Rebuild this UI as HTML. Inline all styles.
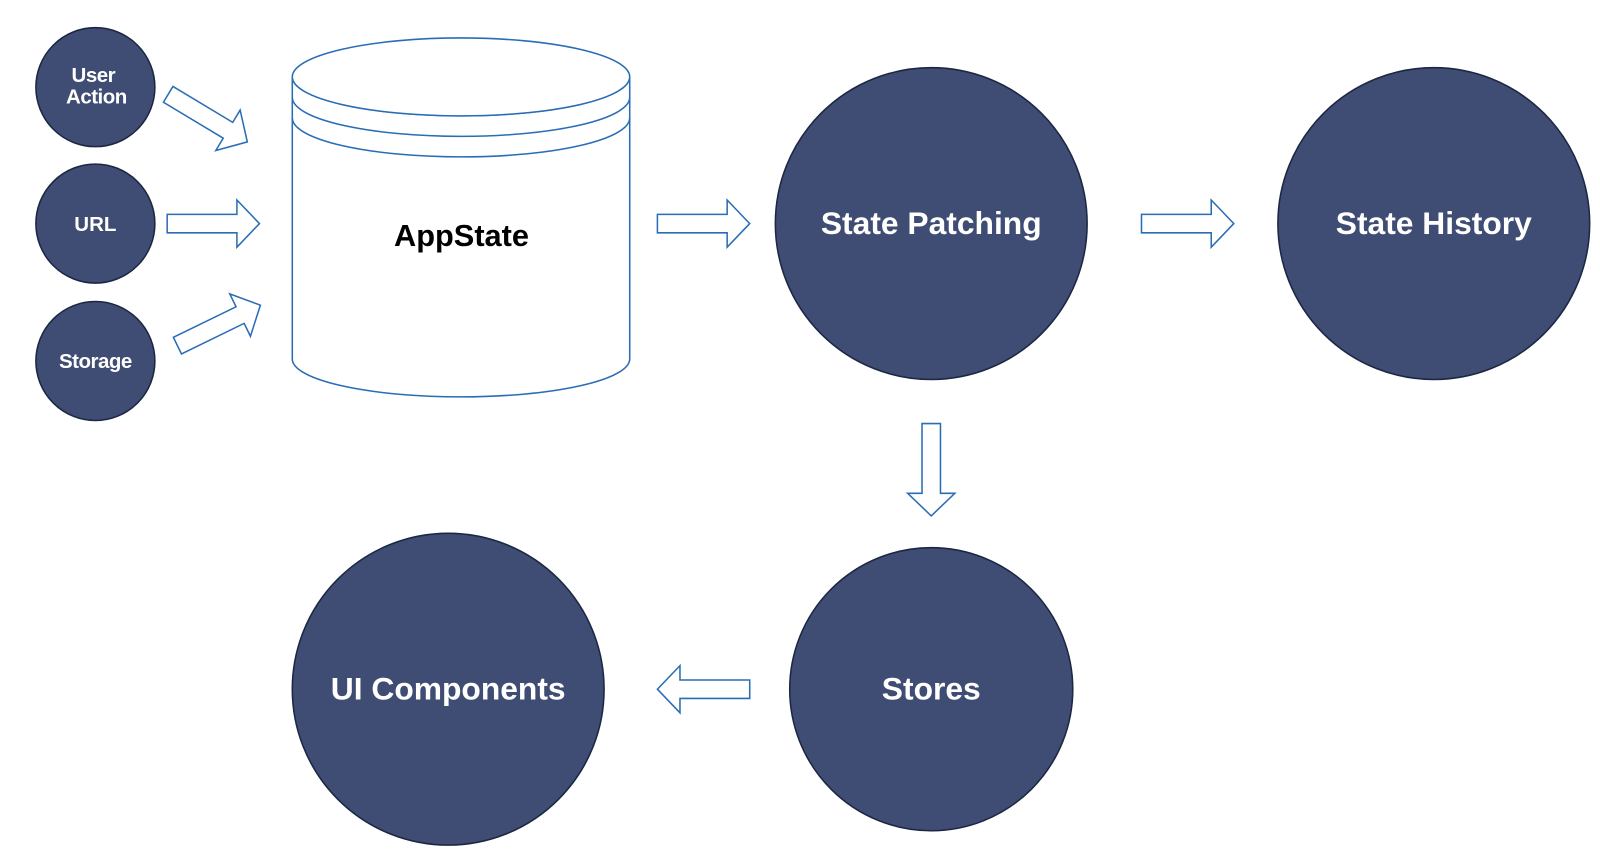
<!DOCTYPE html>
<html><head><meta charset="utf-8"><style>
html,body{margin:0;padding:0;background:#fff;width:1600px;height:859px;overflow:hidden}
text{font-family:"Liberation Sans",Arial,sans-serif;font-weight:bold}
</style></head><body>
<svg width="1600" height="859" viewBox="0 0 1600 859" xmlns="http://www.w3.org/2000/svg">
<g transform="scale(1.0256)">
<g fill="#3f4c73" stroke="#1c2743" stroke-width="1.5">
<circle cx="93" cy="85" r="58"/>
<circle cx="93" cy="218" r="58"/>
<circle cx="93" cy="352" r="58"/>
<circle cx="908" cy="218" r="152"/>
<circle cx="1398" cy="218" r="152"/>
<circle cx="908" cy="672" r="138"/>
<circle cx="437" cy="672" r="152"/>
</g>
<g fill="#fff" text-anchor="middle">
<text x="91" y="80" font-size="20" letter-spacing="-0.5">User</text>
<text x="94" y="101" font-size="20" letter-spacing="-0.5">Action</text>
<text x="93" y="225" font-size="20">URL</text>
<text x="93" y="359" font-size="20" letter-spacing="-0.5">Storage</text>
<text x="908" y="228" font-size="31">State Patching</text>
<text x="1398" y="228" font-size="31">State History</text>
<text x="908" y="682" font-size="31">Stores</text>
<text x="437" y="682" font-size="31">UI Components</text>
</g>
<g fill="#fff" stroke="#2a6db5" stroke-width="1.5">
<path d="M285,75 L285,350 A164.5,37 0 0 0 614,350 L614,75"/>
<path d="M285,75 A164.5,38 0 0 0 614,75"/>
<path d="M285,95 A164.5,38 0 0 0 614,95" fill="none"/>
<path d="M285,115 A164.5,38 0 0 0 614,115" fill="none"/>
<ellipse cx="449.5" cy="75" rx="164.5" ry="38"/>
</g>
<text x="450" y="240" font-size="30" text-anchor="middle" fill="#000">AppState</text>
<g fill="#fff" stroke="#2a6db5" stroke-width="1.5">
<path id="ar" d="M0,-9 L68,-9 L68,-23 L90,0 L68,23 L68,9 L0,9 Z" transform="translate(163,218)"/>
<path d="M0,-9 L68,-9 L68,-23 L90,0 L68,23 L68,9 L0,9 Z" transform="translate(641,218)"/>
<path d="M0,-9 L68,-9 L68,-23 L90,0 L68,23 L68,9 L0,9 Z" transform="translate(1113,218)"/>
<path d="M0,-9 L68,-9 L68,-23 L90,0 L68,23 L68,9 L0,9 Z" transform="translate(908,413) rotate(90)"/>
<path d="M0,-9 L68,-9 L68,-23 L90,0 L68,23 L68,9 L0,9 Z" transform="translate(731,672) rotate(180)"/>
<path d="M0,-9 L68,-9 L68,-23 L90,0 L68,23 L68,9 L0,9 Z" transform="translate(164,92) rotate(31)"/>
<path d="M0,-9 L68,-9 L68,-23 L90,0 L68,23 L68,9 L0,9 Z" transform="translate(173,337) rotate(-26)"/>
</g>
</g>
</svg>
</body></html>
